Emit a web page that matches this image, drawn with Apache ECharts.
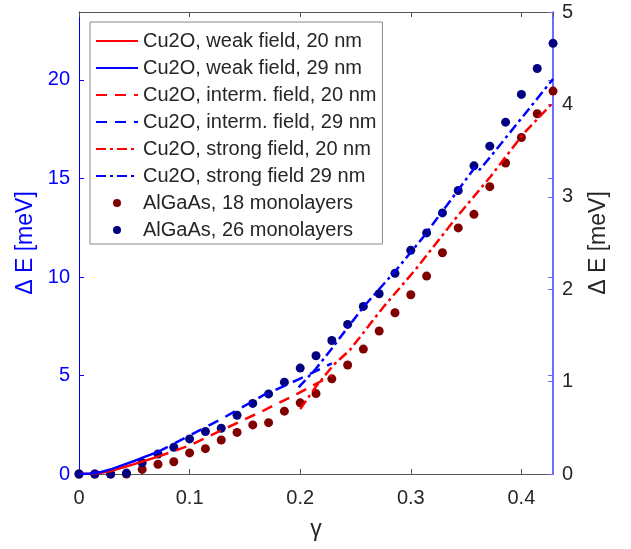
<!DOCTYPE html>
<html>
<head>
<meta charset="utf-8">
<script src="https://cdn.jsdelivr.net/npm/echarts@6/dist/echarts.min.js"></script>
<style>
  html, body { margin: 0; padding: 0; background: #fff; }
  #chart { width: 631px; height: 549px; }
</style>
</head>
<body>
<div id="chart"></div>
<script>
// Cu2O curves (left axis, meV)
var gammaWeak = [0, 0.01, 0.02, 0.03, 0.04, 0.05, 0.06, 0.0714];
var weak20 = [0, 0.01, 0.06, 0.17, 0.34, 0.5, 0.68, 0.88];
var weak29 = [0, 0.03, 0.1, 0.26, 0.46, 0.66, 0.88, 1.12];

var gammaInterm20 = [0.0714, 0.1, 0.13, 0.1668, 0.1985, 0.2286];
var interm20 = [0.88, 1.45, 2.25, 3.22, 4.1, 5.0];
var gammaInterm29 = [0.0714, 0.1, 0.1306, 0.1668, 0.1985, 0.2286];
var interm29 = [1.12, 1.95, 2.85, 4.0, 4.8, 5.62];

var gammaStrong20 = [0.2, 0.2145, 0.2295, 0.245, 0.2754, 0.304, 0.3418, 0.372, 0.4021, 0.4286];
var strong20 = [3.3, 4.45, 5.5, 6.3, 8.49, 10.36, 13.06, 15.09, 17.29, 18.85];
var gammaStrong29 = [0.1985, 0.2136, 0.229, 0.2573, 0.2875, 0.3116, 0.3418, 0.3584, 0.3623, 0.372, 0.4021, 0.4286];
var strong29 = [4.4, 5.3, 6.4, 8.49, 10.4, 12.05, 14.33, 15.6, 15.45, 16.1, 18.2, 20.05];

// AlGaAs points (right axis, meV)
var gammaDots = [0, 0.0143, 0.0286, 0.0429, 0.0571, 0.0714, 0.0857, 0.1, 0.1143, 0.1286,
  0.1429, 0.1571, 0.1714, 0.1857, 0.2, 0.2143, 0.2286, 0.2429, 0.2571, 0.2714,
  0.2857, 0.3, 0.3143, 0.3286, 0.3429, 0.3571, 0.3714, 0.3857, 0.4, 0.4143, 0.4286];
var algaas18 = [0, 0, 0, 0, 0.05, 0.105, 0.133, 0.228, 0.274, 0.368,
  0.45, 0.531, 0.556, 0.68, 0.77, 0.87, 1.03, 1.18, 1.352, 1.548,
  1.745, 1.94, 2.142, 2.395, 2.663, 2.81, 3.11, 3.366, 3.642, 3.899, 4.144];
var algaas26 = [0, 0, 0, 0.01, 0.123, 0.217, 0.29, 0.38, 0.46, 0.495,
  0.636, 0.764, 0.867, 0.994, 1.146, 1.28, 1.445, 1.619, 1.814, 1.951,
  2.172, 2.421, 2.609, 2.826, 3.068, 3.335, 3.548, 3.808, 4.108, 4.388, 4.661];

var names = ['Cu2O, weak field, 20 nm', 'Cu2O, weak field, 29 nm',
  'Cu2O, interm. field, 20 nm', 'Cu2O, interm. field, 29 nm',
  'Cu2O, strong field, 20 nm', 'Cu2O, strong field 29 nm',
  'AlGaAs, 18 monolayers', 'AlGaAs, 26 monolayers'];

var xMax = 0.42857;
var leftMax = 23.45;
var font = 'Liberation Sans, Arial, sans-serif';
var dark = '#262626';

function pairs(xs, ys) {
  return xs.map(function (x, i) { return [x, ys[i]]; });
}

function lineSeries(name, xs, ys, color, dash) {
  return {
    name: name,
    type: 'line',
    yAxisIndex: 0,
    symbol: 'none',
    lineStyle: { color: color, width: 2.5, type: dash, opacity: 1 },
    // hides the marker that the legend would put on the line sample
    itemStyle: { color: color, opacity: 0 },
    data: pairs(xs, ys)
  };
}

function dotSeries(name, xs, ys, color) {
  return {
    name: name,
    type: 'scatter',
    yAxisIndex: 1,
    symbol: 'circle',
    symbolSize: 9,
    itemStyle: { color: color, opacity: 1 },
    data: pairs(xs, ys)
  };
}

var chart = echarts.init(document.getElementById('chart'));

var option = {
  animation: false,
  textStyle: { fontFamily: font },
  grid: { left: 79, right: 78, top: 12, bottom: 75 },
  legend: {
    orient: 'vertical',
    left: 90,
    top: 22,
    padding: [9, 6, 4, 5],
    itemWidth: 42,
    itemHeight: 8,
    itemGap: 7,
    backgroundColor: '#fff',
    borderColor: '#888',
    borderWidth: 1,
    textStyle: { fontSize: 20, lineHeight: 20, color: dark, fontFamily: font },
    data: names
  },
  xAxis: [{
    type: 'value',
    min: 0,
    max: xMax,
    interval: 0.1,
    name: 'γ',
    nameLocation: 'middle',
    nameGap: 44,
    nameTextStyle: { fontSize: 23, color: dark, fontFamily: font },
    axisLine: { onZero: false, lineStyle: { color: '#555', width: 1 } },
    axisTick: { inside: true, length: 5, lineStyle: { color: '#555' } },
    axisLabel: { fontSize: 20, color: dark, margin: 14, showMaxLabel: false, fontFamily: font },
    splitLine: { show: false }
  }, {
    type: 'value',
    position: 'top',
    min: 0,
    max: xMax,
    interval: 0.1,
    axisLine: { show: true, onZero: false, lineStyle: { color: '#555', width: 1 } },
    axisTick: { show: true, inside: true, length: 5, lineStyle: { color: '#555' } },
    axisLabel: { show: false },
    splitLine: { show: false }
  }],
  yAxis: [{
    type: 'value',
    position: 'left',
    min: 0,
    max: leftMax,
    interval: 5,
    name: 'Δ E [meV]',
    nameLocation: 'middle',
    nameRotate: 90,
    nameGap: 39,
    nameTextStyle: { fontSize: 23, color: '#0000ff', fontFamily: font },
    axisLine: { show: true, onZero: false, lineStyle: { color: '#0000ff', width: 1 } },
    axisTick: { show: true, inside: true, length: 5, lineStyle: { color: '#0000ff' } },
    axisLabel: { fontSize: 20, color: '#0000ff', margin: 9, showMaxLabel: false, fontFamily: font },
    splitLine: { show: false }
  }, {
    type: 'value',
    position: 'right',
    min: 0,
    max: 5,
    interval: 1,
    name: 'Δ E [meV]',
    nameLocation: 'middle',
    nameRotate: 90,
    nameGap: 34,
    nameTextStyle: { fontSize: 23, color: dark, fontFamily: font },
    axisLine: { show: true, onZero: false, lineStyle: { color: '#3c3cff', width: 1.5 } },
    axisTick: { show: true, inside: true, length: 5, lineStyle: { color: '#6a6aff' } },
    axisLabel: { fontSize: 20, color: dark, margin: 9, fontFamily: font },
    splitLine: { show: false }
  }, {
    type: 'value',
    position: 'right',
    min: 0,
    max: leftMax,
    interval: 5,
    axisLine: { show: false, onZero: false },
    axisTick: { show: true, inside: true, length: 5, lineStyle: { color: '#6a6aff' } },
    axisLabel: { show: false },
    splitLine: { show: false }
  }],
  series: [
    lineSeries(names[0], gammaWeak, weak20, '#ff0000', 'solid'),
    lineSeries(names[1], gammaWeak, weak29, '#0000ff', 'solid'),
    lineSeries(names[2], gammaInterm20, interm20, '#ff0000', [11, 8]),
    lineSeries(names[3], gammaInterm29, interm29, '#0000ff', [11, 8]),
    lineSeries(names[4], gammaStrong20, strong20, '#ff0000', [10, 4, 3, 4]),
    lineSeries(names[5], gammaStrong29, strong29, '#0000ff', [10, 4, 3, 4]),
    dotSeries(names[6], gammaDots, algaas18, '#800000'),
    dotSeries(names[7], gammaDots, algaas26, '#000080')
  ]
};

chart.setOption(option);
</script>
</body>
</html>
